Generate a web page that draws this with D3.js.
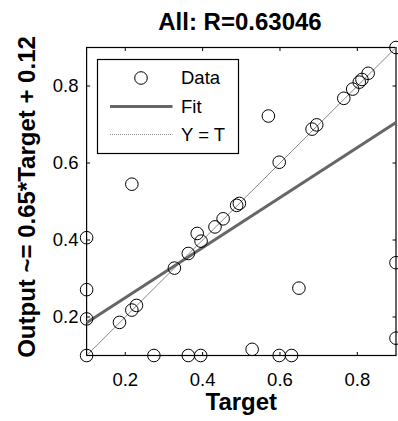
<!DOCTYPE html>
<html>
<head>
<meta charset="utf-8">
<script src="https://cdn.jsdelivr.net/npm/d3@7"></script>
<style>
  body { margin: 0; background: #fff; }
  text { font-family: "Liberation Sans", Arial, sans-serif; fill: #000; }
</style>
</head>
<body>
<svg id="chart" width="398" height="421"></svg>
<script>
// regression data
const targets = [0.1, 0.1, 0.1, 0.1, 0.185, 0.217, 0.229, 0.217, 0.274, 0.327,
  0.363, 0.363, 0.386, 0.395, 0.396, 0.432, 0.453, 0.488, 0.495, 0.528,
  0.57, 0.598, 0.598, 0.63, 0.649, 0.683, 0.695, 0.765, 0.788, 0.805,
  0.812, 0.828, 0.9, 0.9, 0.9];
const outputs = [0.1, 0.195, 0.271, 0.406, 0.186, 0.218, 0.23, 0.545, 0.1, 0.327,
  0.1, 0.365, 0.417, 0.1, 0.397, 0.434, 0.455, 0.49, 0.495, 0.116,
  0.722, 0.1, 0.602, 0.1, 0.275, 0.688, 0.699, 0.768, 0.792, 0.81,
  0.817, 0.833, 0.9, 0.341, 0.145];
const fitSlope = 0.65;
const fitIntercept = 0.12;
const axisRange = [0.1, 0.9];
const tickValues = [0.2, 0.4, 0.6, 0.8];
const legendItems = ['Data', 'Fit', 'Y = T'];

const svg = d3.select('#chart');
const box = { left: 86.6, right: 396, top: 47.5, bottom: 355.5 };

const x = d3.scaleLinear().domain(axisRange).range([box.left, box.right]);
const y = d3.scaleLinear().domain(axisRange).range([box.bottom, box.top]);

svg.append('rect').attr('width', 398).attr('height', 421).attr('fill', '#fff');

// ticks pointing inwards on all four sides
const tickLen = 3.5;
const ticks = svg.append('g').attr('stroke', '#000').attr('stroke-width', 1);
tickValues.forEach(v => {
  ticks.append('line').attr('x1', x(v)).attr('x2', x(v)).attr('y1', box.bottom).attr('y2', box.bottom - tickLen);
  ticks.append('line').attr('x1', x(v)).attr('x2', x(v)).attr('y1', box.top).attr('y2', box.top + tickLen);
  ticks.append('line').attr('y1', y(v)).attr('y2', y(v)).attr('x1', box.left).attr('x2', box.left + tickLen);
  ticks.append('line').attr('y1', y(v)).attr('y2', y(v)).attr('x1', box.right).attr('x2', box.right - tickLen);
});

svg.append('rect')
  .attr('x', box.left).attr('y', box.top)
  .attr('width', box.right - box.left).attr('height', box.bottom - box.top)
  .attr('fill', 'none').attr('stroke', '#000').attr('stroke-width', 1.2);

// tick labels
svg.append('g').selectAll('text').data(tickValues).join('text')
  .attr('x', d => x(d)).attr('y', 386)
  .attr('text-anchor', 'middle').attr('font-size', 18.5)
  .text(d => d3.format('.1f')(d));
svg.append('g').selectAll('text').data(tickValues).join('text')
  .attr('x', 78.5).attr('y', d => y(d)).attr('dy', '0.35em')
  .attr('text-anchor', 'end').attr('font-size', 18.5)
  .text(d => d3.format('.1f')(d));

// Y = T line and fit line
const line = d3.line().x(d => x(d[0])).y(d => y(d[1]));
svg.append('path')
  .datum(axisRange.map(v => [v, v]))
  .attr('d', line)
  .attr('fill', 'none').attr('stroke', '#888').attr('stroke-width', 1);
svg.append('path')
  .datum(axisRange.map(v => [v, fitSlope * v + fitIntercept]))
  .attr('d', line)
  .attr('fill', 'none').attr('stroke', '#666').attr('stroke-width', 3);

// data circles
svg.append('g').selectAll('circle').data(targets).join('circle')
  .attr('cx', d => x(d))
  .attr('cy', (d, i) => y(outputs[i]))
  .attr('r', 6.3)
  .attr('fill', 'none').attr('stroke', '#000').attr('stroke-width', 1);

// legend
const lg = svg.append('g');
lg.append('rect')
  .attr('x', 97.5).attr('y', 59.5).attr('width', 141).attr('height', 94)
  .attr('fill', '#fff').attr('stroke', '#000').attr('stroke-width', 1.2);
const rowY = [78, 106.5, 134.5];
lg.append('circle').attr('cx', 141).attr('cy', rowY[0]).attr('r', 6.3)
  .attr('fill', 'none').attr('stroke', '#000');
lg.append('line').attr('x1', 110).attr('x2', 172.5).attr('y1', rowY[1]).attr('y2', rowY[1])
  .attr('stroke', '#666').attr('stroke-width', 3);
lg.append('line').attr('x1', 110).attr('x2', 172.5).attr('y1', rowY[2]).attr('y2', rowY[2])
  .attr('stroke', '#888').attr('stroke-width', 1).attr('stroke-dasharray', '1,1');
lg.selectAll('text.item').data(legendItems).join('text')
  .attr('class', 'item')
  .attr('x', 181).attr('y', (d, i) => rowY[i]).attr('dy', '0.35em')
  .attr('font-size', 18.5)
  .text(d => d);

// title and axis labels
svg.append('text')
  .attr('x', 240).attr('y', 29.5).attr('text-anchor', 'middle')
  .attr('font-size', 24).attr('font-weight', 'bold')
  .text('All: R=0.63046');
svg.append('text')
  .attr('x', (box.left + box.right) / 2).attr('y', 410).attr('text-anchor', 'middle')
  .attr('font-size', 24).attr('font-weight', 'bold')
  .text('Target');
svg.append('text')
  .attr('transform', 'translate(34.5,197) rotate(-90)')
  .attr('text-anchor', 'middle')
  .attr('font-size', 24).attr('font-weight', 'bold')
  .text('Output ~= ' + fitSlope + '*Target + ' + fitIntercept);
</script>
</body>
</html>
